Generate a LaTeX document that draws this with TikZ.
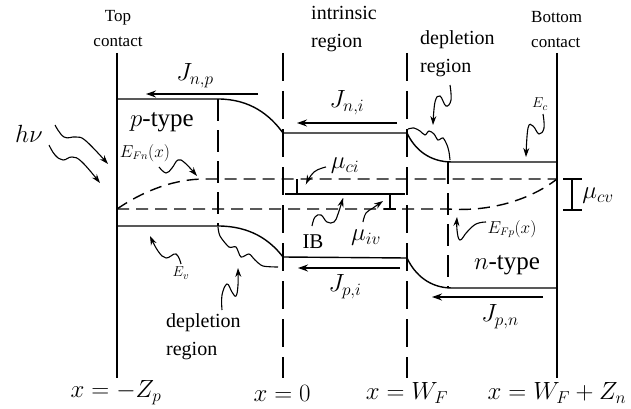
\documentclass[tikz,border=0pt]{standalone}
\usepackage{fontspec}
\setmainfont{Liberation Serif}
\usetikzlibrary{arrows.meta}
\begin{document}
\begin{tikzpicture}[x=1pt,y=-1pt,
  band/.style={line width=1.4pt},
  vdash/.style={line width=1.4pt, dash pattern=on 28pt off 10pt},
  idash/.style={line width=1.4pt, dash pattern=on 22pt off 9pt},
  hdash/.style={line width=1.4pt, dash pattern=on 12pt off 7pt},
  jarrow/.style={line width=1.4pt,-{Stealth[length=10pt,width=7pt]}},
  ptr/.style={line width=1.1pt,-{Stealth[length=9pt,width=6pt]}},
  fuzz/.style={line width=1.1pt},
  lbl/.style={inner sep=0pt},
  tiny/.style={lbl,font=\fontsize{17}{25}\selectfont},
  big/.style={lbl,font=\fontsize{20}{28}\selectfont},
  mth/.style={lbl,font=\fontsize{23}{26}\selectfont},
]
\useasboundingbox[fill=white] (0,0) rectangle (631,409);

% contacts and boundaries
\coordinate (TCt) at (117,53); \coordinate (TCb) at (117,378);
\coordinate (BCt) at (557,53); \coordinate (BCb) at (557,378);
\coordinate (X0t) at (283,53); \coordinate (X0b) at (283,378);
\coordinate (XWt) at (407,53); \coordinate (XWb) at (407,378);
\draw[band] (TCt) -- (TCb);
\draw[band] (BCt) -- (BCb);
\draw[vdash] (X0t) -- (X0b);
\draw[vdash] (XWt) -- (XWb);

% band edges
\coordinate (EcL) at (117,99);  \coordinate (EcP) at (218,99);
\coordinate (Ec0) at (283,133); \coordinate (EcW) at (407,133);
\coordinate (EcN) at (452,162); \coordinate (EcR) at (557,162);
\draw[band] (EcL) -- (EcP) .. controls (250,99) and (270,115) .. (Ec0) -- (EcW)
  .. controls (415,150) and (430,162) .. (EcN) -- (EcR);
\coordinate (EvL) at (117,226); \coordinate (EvP) at (218,226);
\coordinate (Ev0) at (283,257); \coordinate (EvW) at (407,258);
\coordinate (EvN) at (452,288); \coordinate (EvR) at (557,288);
\draw[band] (EvL) -- (EvP) .. controls (250,226) and (270,240) .. (Ev0) -- (EvW)
  .. controls (415,275) and (430,288) .. (EvN) -- (EvR);

% inner depletion edges
\coordinate (DPt) at (218,99);  \coordinate (DPb) at (218,226);
\coordinate (DNt) at (448,162); \coordinate (DNb) at (448,288);
\draw[idash] (DPt) -- (DPb);
\draw[idash] (DNt) -- (DNb);

% quasi-Fermi levels
\coordinate (FL) at (117,209); \coordinate (FnP) at (205,179);
\coordinate (FR) at (557,179); \coordinate (FpN) at (448,209);
\draw[hdash] (FL) .. controls (145,190) and (175,179) .. (FnP) -- (FR);
\draw[hdash] (FL) -- (FpN) .. controls (490,212) and (530,200) .. (FR);

% intermediate band
\coordinate (IBl) at (285,194); \coordinate (IBr) at (405,194);
\draw[band] (IBl) -- (IBr);
\coordinate (muciT) at (297,179); \coordinate (muciB) at (297,194);
\draw[line width=1.2pt] (muciT) -- (muciB);
\coordinate (muivT) at (390,194); \coordinate (muivB) at (390,209);
\draw[line width=1.2pt] (muivT) -- (muivB);
\draw[line width=1.2pt] (384,209) -- (396,209);

% mu_cv bracket
\coordinate (mucvT) at (572,179); \coordinate (mucvB) at (572,210);
\draw[line width=1.2pt] (mucvT) -- (mucvB);
\draw[line width=1.2pt] (563,179) -- (582,179);
\draw[line width=1.2pt] (563,210) -- (582,210);

% current arrows
\coordinate (jnpS) at (258,94);  \coordinate (jnpE) at (146,94);
\coordinate (jniS) at (397,123); \coordinate (jniE) at (297,123);
\coordinate (jpiS) at (400,268); \coordinate (jpiE) at (298,268);
\coordinate (jpnS) at (543,297); \coordinate (jpnE) at (432,297);
\draw[jarrow] (jnpS) -- (jnpE);
\draw[jarrow] (jniS) -- (jniE);
\draw[jarrow] (jpiS) -- (jpiE);
\draw[jarrow] (jpnS) -- (jpnE);

% labels
\node[tiny,align=center] (top) at (118,29) {Top\\contact};
\node[big,align=left,anchor=west] (intr) at (311,29) {intrinsic\\region};
\node[big,align=left,anchor=west] (depT) at (420,54) {depletion\\region};
\node[tiny,align=left,anchor=west] (bot) at (531,30) {Bottom\\contact};
\node[big,align=left,anchor=west] (depB) at (166,337) {depletion\\region};

\node[mth] (Jnp) at (195,76) {$J_{n,p}$};
\node[mth] (Jni) at (347,103) {$J_{n,i}$};
\node[mth] (Jpi) at (345,287) {$J_{p,i}$};
\node[mth] (Jpn) at (500,317) {$J_{p,n}$};
\node[lbl,font=\fontsize{25}{28}\selectfont] (ptype) at (162,122) {$p$-type};
\node[lbl,font=\fontsize{25}{28}\selectfont] (ntype) at (507,265) {$n$-type};
\node[lbl,font=\fontsize{27}{30}\selectfont] (hnu) at (29,134) {$h\nu$};
\node[lbl,font=\fontsize{16}{18}\selectfont] (EFn) at (145,153) {$E_{Fn}(x)$};
\node[lbl,font=\fontsize{16}{18}\selectfont] (EFp) at (512,229) {$E_{Fp}(x)$};
\node[lbl,font=\fontsize{15}{18}\selectfont] (Ec) at (540,104) {$E_c$};
\node[lbl,font=\fontsize{15}{18}\selectfont] (Ev) at (181,273) {$E_v$};
\node[lbl,font=\fontsize{21}{24}\selectfont] (IB) at (313,242) {IB};
\node[lbl,font=\fontsize{24}{26}\selectfont] (muiv) at (366,238) {$\mu_{iv}$};
\node[lbl,font=\fontsize{24}{26}\selectfont] (muci) at (345,166) {$\mu_{ci}$};
\node[lbl,font=\fontsize{24}{26}\selectfont] (mucv) at (598,196) {$\mu_{cv}$};
\node[mth] (xa) at (116,393) {$x=-Z_p$};
\node[mth] (xb) at (282,393) {$x=0$};
\node[mth] (xc) at (407,393) {$x=W_F$};
\node[mth] (xd) at (557,393) {$x=W_F+Z_n$};

% wavy pointers
\draw[ptr] plot[smooth,tension=0.7] coordinates {(55,125) (64,137) (76,137) (86,141) (108,164)};
\draw[ptr] plot[smooth,tension=0.7] coordinates {(49,145) (55,155) (63,160) (72,157) (82,162) (100,183)};
\draw[ptr] plot[smooth,tension=0.7] coordinates {(159,167) (166,173) (172,168) (178,160) (185,163) (197,176)};
\draw[ptr] plot[smooth,tension=0.7] coordinates {(181,264) (176,254) (166,258) (158,251) (150,236)};
\draw[ptr] plot[smooth,tension=0.7] coordinates {(222,310) (222,295) (227,284) (232,292) (236,296) (238,285) (238,268)};
\draw[ptr] plot[smooth,tension=0.7] coordinates {(450,85) (451,100) (446,106) (440,96) (435,102) (433,125)};
\draw[ptr] plot[smooth,tension=0.7] coordinates {(543,114) (544,128) (539,134) (533,126) (528,128) (526,157)};
\draw[ptr] plot[smooth,tension=0.7] coordinates {(326,167) (314,172) (306,184)};
\draw[ptr] plot[smooth,tension=0.7] coordinates {(312,226) (315,217) (321,215) (327,222) (334,222) (338,214) (343,198)};
\draw[ptr] plot[smooth,tension=0.7] coordinates {(363,222) (366,213) (373,208) (383,201)};
\draw[ptr] plot[smooth,tension=0.7] coordinates {(486,222) (476,224) (467,232) (460,240) (457,230) (457,217)};

% fuzzy depletion edges
\draw[fuzz] plot[smooth,tension=0.5] coordinates {(218,227) (220,236) (229,247) (236,247) (241,257) (249,254) (255,260) (263,266) (278,267)};
\draw[fuzz] plot[smooth,tension=0.5] coordinates {(408,129) (414,128) (420,131) (425,135) (429,131) (434,134) (438,140) (443,138) (447,145) (449,152) (450,160)};
\end{tikzpicture}
\end{document}
